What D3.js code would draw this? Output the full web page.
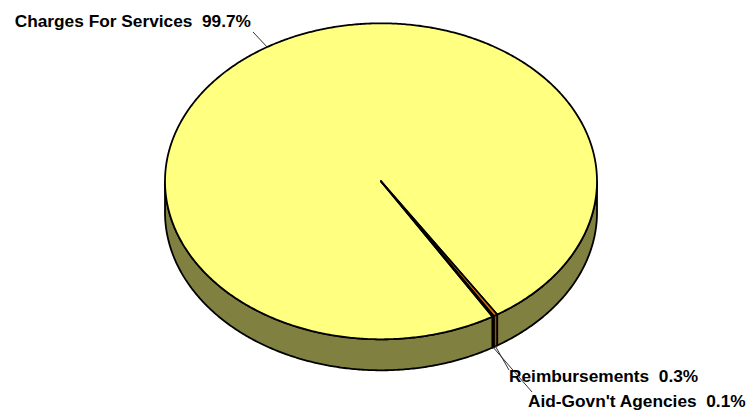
<!DOCTYPE html>
<html>
<head>
<meta charset="utf-8">
<script src="https://cdn.jsdelivr.net/npm/d3@7"></script>
<style>
	body { margin: 0; background: #fff; }
	svg { display: block; }
</style>
</head>
<body>
<script>
	// data
	var categories = ["Charges For Services", "Reimbursements", "Aid-Govn't Agencies"];
	var shares = [99.7, 0.3, 0.1];
	var shareLabels = ["99.7%", "0.3%", "0.1%"];

	var width = 755,
		height = 411;

	var cx = 381, cy = 181.3,
		rx = 216, ry = 158,
		depth = 31;

	var topColor = d3.scaleOrdinal().domain(categories).range(["#FFFF80", "#E07000", "#803000"]);
	var sideColor = d3.scaleOrdinal().domain(categories).range(["#808040", "#A05000", "#401800"]);

	var startAngle = 148.9 * Math.PI / 180;
	var pie = d3.pie()
		.sort(null)
		.value(function(d) { return d; })
		.startAngle(startAngle - 2 * Math.PI)
		.endAngle(startAngle);

	var arcs = pie(shares);

	function pt(a, dy) {
		return [cx + rx * Math.sin(a), cy - ry * Math.cos(a) + (dy || 0)];
	}

	function arcPoints(a0, a1, dy) {
		var n = Math.max(2, Math.ceil(Math.abs(a1 - a0) / (Math.PI / 360)));
		return d3.range(n + 1).map(function(i) { return pt(a0 + (a1 - a0) * i / n, dy); });
	}

	var line = d3.line();

	var svg = d3.select("body").append("svg")
		.attr("width", width)
		.attr("height", height);

	// side walls (only the front half is visible)
	arcs.forEach(function(d, i) {
		for (var k = -2; k <= 1; k++) {
			var lo = Math.max(d.startAngle, Math.PI / 2 + 2 * Math.PI * k),
				hi = Math.min(d.endAngle, 3 * Math.PI / 2 + 2 * Math.PI * k);
			if (hi <= lo) continue;
			var pts = arcPoints(lo, hi, 0).concat(arcPoints(hi, lo, depth));
			svg.append("path")
				.attr("d", line(pts) + "Z")
					.style("fill", sideColor(categories[i]))
					.style("stroke", "#000")
					.style("stroke-width", 1.8)
					.style("stroke-linejoin", "round");
		}
	});

	// top faces
	arcs.forEach(function(d, i) {
		var pts = [[cx, cy]].concat(arcPoints(d.startAngle, d.endAngle, 0));
		svg.append("path")
			.attr("d", line(pts) + "Z")
				.style("fill", topColor(categories[i]))
				.style("stroke", "#000")
				.style("stroke-width", 1.8)
				.style("stroke-linejoin", "round");
	});

	// labels and leader lines
	var labelPos = [
		{ x: 251, y: 27, anchor: "end", lx: 253, ly: 32, onSide: false },
		{ x: 509, y: 382, anchor: "start", lx: 509, ly: 370, onSide: true },
		{ x: 528, y: 407, anchor: "start", lx: 532, ly: 392, onSide: true }
	];

	arcs.forEach(function(d, i) {
		var p = labelPos[i];
		var mid = (d.startAngle + d.endAngle) / 2;
		var e = pt(mid, p.onSide ? depth : 0);
		svg.append("path")
			.attr("d", line([e, [p.lx, p.ly]]))
				.style("fill", "none")
				.style("stroke", "#333")
				.style("stroke-width", 1);

		svg.append("text")
			.attr("x", p.x)
			.attr("y", p.y)
			.attr("text-anchor", p.anchor)
				.style("font-family", "'Liberation Sans', Arial, sans-serif")
				.style("font-size", "17.3px")
				.style("font-weight", "bold")
				.style("fill", "#000")
			.text(categories[i] + "\u00a0 " + shareLabels[i]);
	});
</script>
</body>
</html>
